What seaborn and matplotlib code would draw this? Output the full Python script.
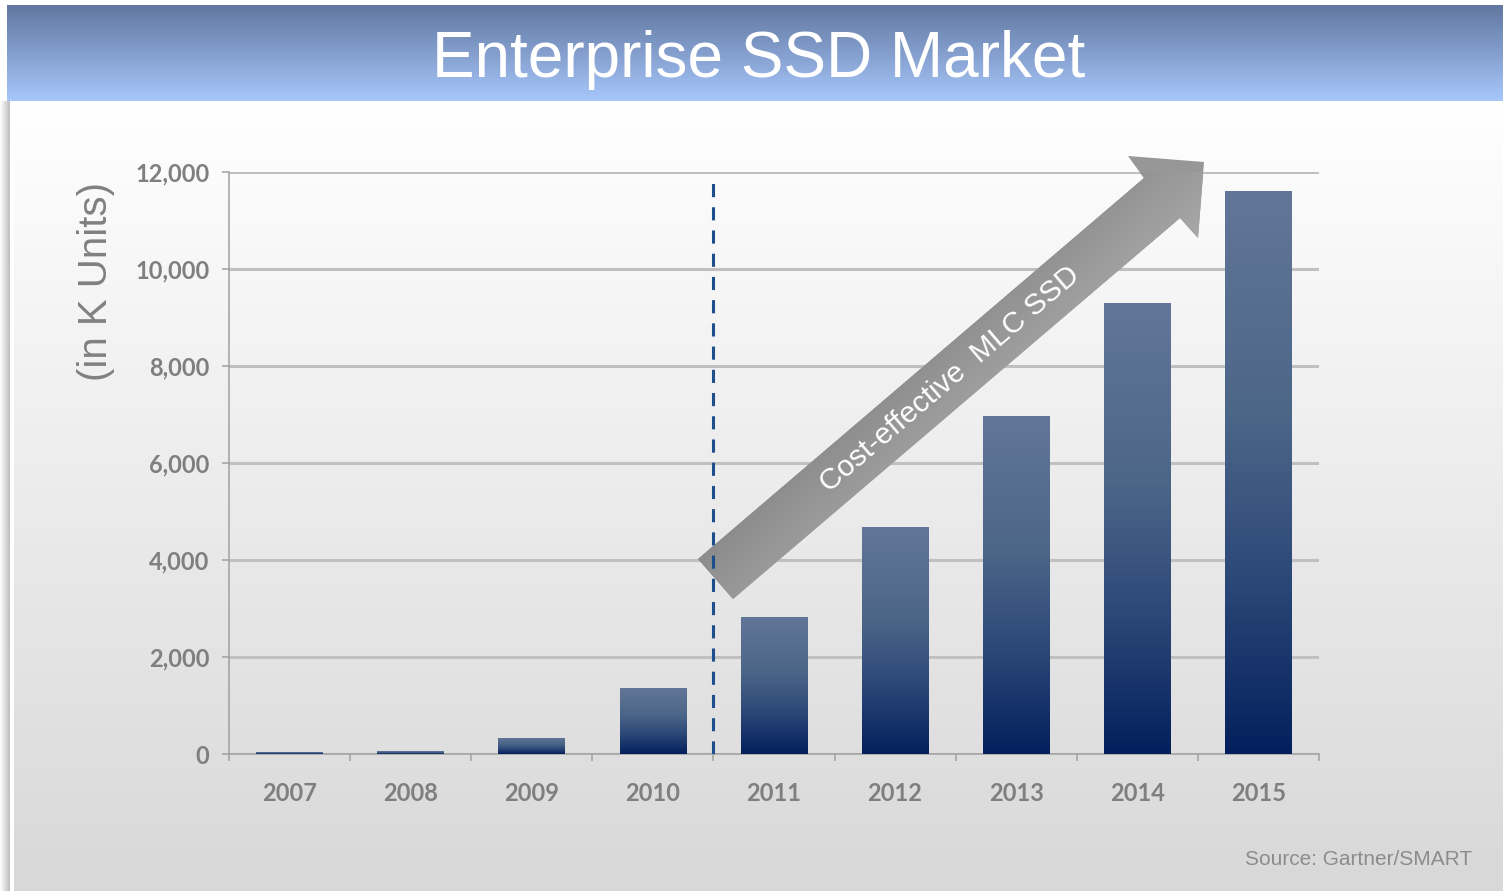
import numpy as np
import pandas as pd
import seaborn as sns
import matplotlib.pyplot as plt
from matplotlib.colors import LinearSegmentedColormap
from matplotlib.patches import Polygon
from matplotlib.transforms import Affine2D

# values (K units)
years = ["2007", "2008", "2009", "2010", "2011", "2012", "2013", "2014", "2015"]
units = [40, 60, 330, 1360, 2825, 4680, 6970, 9300, 11610]
y_ticks = [0, 2000, 4000, 6000, 8000, 10000, 12000]
title = "Enterprise SSD Market"
ylabel = "(in K Units)"
arrow_text = "Cost-effective  MLC SSD"
source = "Source: Gartner/SMART"

W, H = 1503, 891
sns.set_theme(style="white")
plt.rcParams["font.family"] = ["Liberation Sans", "DejaVu Sans"]

fig = plt.figure(figsize=(W / 100, H / 100), dpi=100)
fig.patch.set_facecolor("white")

# slide background: banner, panel gradient, left shadow
bg = fig.add_axes([0, 0, 1, 1], zorder=0)
vgrad = np.linspace(0, 1, 256).reshape(-1, 1)
hgrad = np.linspace(0, 1, 64).reshape(1, -1)
bg.imshow(vgrad, cmap=LinearSegmentedColormap.from_list("panel", ["#ffffff", "#d8d8d8"]),
          extent=[14, W, H, 101], aspect="auto")
bg.imshow(vgrad, cmap=LinearSegmentedColormap.from_list("banner", ["#6177a0", "#a7c7fb"]),
          extent=[7, W, 101, 5], aspect="auto")
bg.imshow(hgrad, cmap=LinearSegmentedColormap.from_list("shadow", ["#ffffff", "#bdbdbd"]),
          extent=[0, 10, H, 101], aspect="auto")
bg.set_xlim(0, W)
bg.set_ylim(H, 0)
bg.axis("off")

# chart
ax = fig.add_axes([229 / W, (H - 754) / H, 1090 / W, 582 / H], zorder=1)
ax.patch.set_alpha(0)
df = pd.DataFrame({"year": years, "units": units})
sns.barplot(data=df, x="year", y="units", width=0.55, color="#5f7399",
            saturation=1, linewidth=0, ax=ax, zorder=3)

bar_cmap = LinearSegmentedColormap.from_list(
    "bar", [(0, "#03205d"), (0.3, "#2b4777"), (0.6, "#4c6688"), (1, "#627699")])
for p in ax.patches:
    x0, y0 = p.get_x(), p.get_y()
    im = ax.imshow(vgrad, cmap=bar_cmap, origin="lower", aspect="auto",
                   extent=[x0, x0 + p.get_width(), y0, y0 + p.get_height()], zorder=3.5)
    im.set_clip_path(p)

ax.set_yticks(y_ticks)
ax.set_yticklabels([f"{v:,}" for v in y_ticks])
ax.set_xticks(np.arange(-0.5, 9, 1), minor=True)
ax.yaxis.grid(True, color="#c0c0c0", linewidth=2.2)
ax.xaxis.grid(False)
ax.set_axisbelow(True)
for s in ["top", "right"]:
    ax.spines[s].set_visible(False)
for s in ["left", "bottom"]:
    ax.spines[s].set_color("#a0a0a0")
    ax.spines[s].set_linewidth(1.1)

tick_font = dict(family="Lato", weight="bold", size=17)
ax.tick_params(axis="y", which="major", direction="out", length=5, width=1.1,
               color="#a0a0a0", pad=9, labelcolor="#7f7f7f", left=True)
ax.tick_params(axis="x", which="major", length=0, pad=20, labelcolor="#7f7f7f", bottom=True)
ax.tick_params(axis="x", which="minor", direction="out", length=5, width=1.1,
               color="#a0a0a0", bottom=True)
for lab in ax.get_xticklabels() + ax.get_yticklabels():
    lab.set_fontproperties(tick_font)

ax.set_xlabel("")
ax.set_ylabel(ylabel, fontsize=29, color="#808080")
ax.yaxis.set_label_coords(-0.105, 0.811)

# dashed divider between 2010 and 2011
ax.axvline(3.5, ymin=0, ymax=0.991, color="#1f4e8c", lw=2.2,
           ls=(0, (4.3, 3.3)), zorder=6)

# growth arrow, laid out in slide pixels
pix = Affine2D().scale(1 / 100, -1 / 100).translate(0, H / 100) + fig.dpi_scale_trans
arrow_pts = np.array([(698, 559), (1144, 178), (1128, 156), (1204, 162),
                      (1198, 238), (1180, 218), (733, 599)], dtype=float)
arrow = Polygon(arrow_pts, closed=True, transform=pix, facecolor="#979797",
                edgecolor="none", zorder=4, clip_on=False)
ax.add_patch(arrow)

# shade across the arrow: darker upper-left edge, lighter lower-right edge
xs = np.linspace(690, 1210, 300)
ys = np.linspace(150, 605, 300)
gx, gy = np.meshgrid(xs, ys)
perp = np.array([381.0, 446.5]) / np.hypot(381.0, 446.5)
along = np.array([446.5, -381.0]) / np.hypot(446.5, 381.0)
proj = arrow_pts @ perp
shade = (gx * perp[0] + gy * perp[1] - proj.min()) / (proj.max() - proj.min())
proj_a = arrow_pts @ along
shade = 0.75 * shade + 0.25 * (gx * along[0] + gy * along[1] - proj_a.min()) / (proj_a.max() - proj_a.min())
shade = np.clip(shade, 0, 1)
arrow_img = ax.imshow(shade, cmap=LinearSegmentedColormap.from_list("arr", ["#858585", "#a9a9a9"]),
                      extent=[690, 1210, 605, 150], transform=pix, zorder=4.5,
                      aspect="auto")
arrow_img.set_clip_on(True)
arrow_img.set_clip_box(None)
arrow_img.set_clip_path(arrow)
ax.set_xlim(-0.5, 8.5)
ax.set_ylim(0, 12000)

ax.text(950, 379, arrow_text, transform=pix, rotation=40.5, rotation_mode="anchor",
        ha="center", va="center", color="white", fontsize=21.5, zorder=5)

fig.text(759 / W, 1 - 77 / H, title, ha="center", va="baseline",
         color="white", fontsize=46)
fig.text(1472 / W, 1 - 865 / H, source, ha="right", va="baseline",
         color="#8c8c8c", fontsize=15)

fig.savefig("out.png", dpi=100)
